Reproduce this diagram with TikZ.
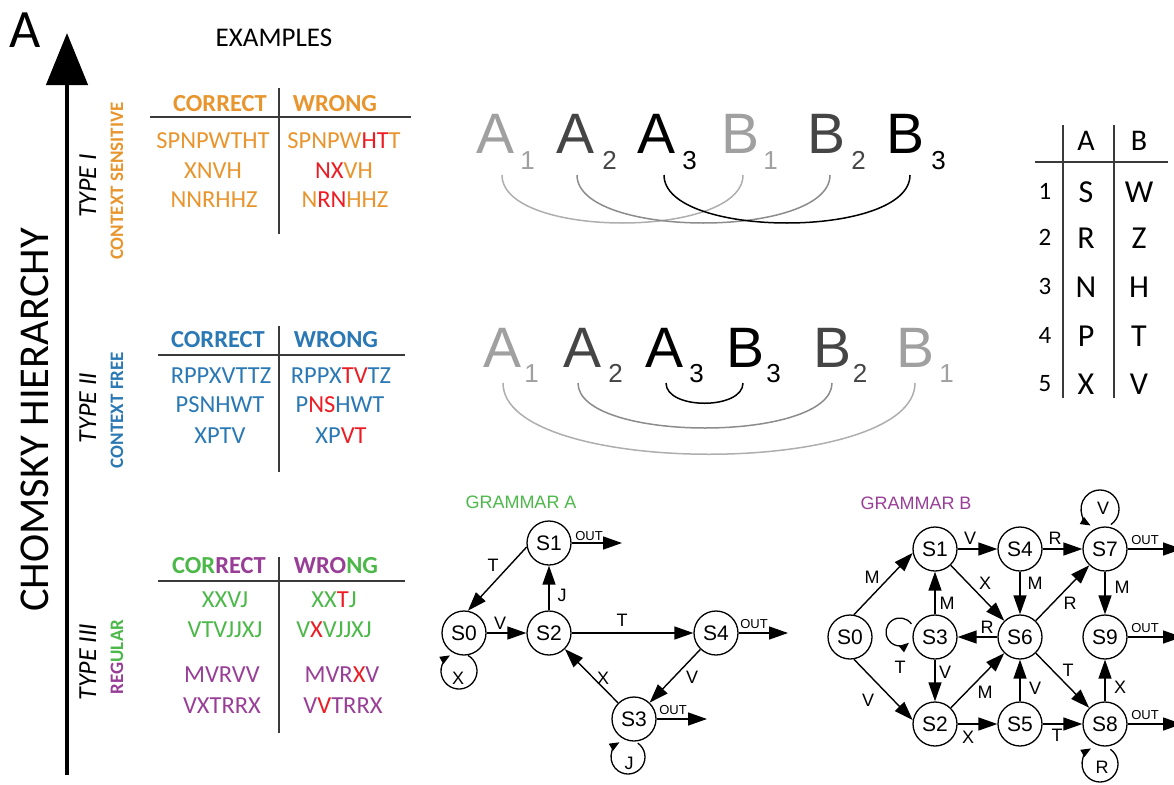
\documentclass[tikz,border=0pt]{standalone}
\usepackage{fontspec}
\setmainfont{Carlito}
\newfontfamily\arial{Liberation Sans}
\usetikzlibrary{arrows.meta}
\definecolor{corange}{HTML}{E8952E}
\definecolor{cblue}{HTML}{2A78B4}
\definecolor{cgreen}{HTML}{4DB84A}
\definecolor{cpurple}{HTML}{983E96}
\definecolor{cred}{HTML}{EC1C24}
\definecolor{lgray}{HTML}{A0A0A0}
\definecolor{dgray}{HTML}{454545}
\definecolor{tline}{HTML}{3A3A3A}
\newcommand\rd[1]{\textcolor{cred}{#1}}
\newcommand\fs[1]{\fontsize{#1}{#1}\selectfont}
\begin{document}
\begin{tikzpicture}[x=1pt,y=-1pt,
  every node/.style={inner sep=0pt},
  cell/.style={font=\fs{24.5}, text height=15.5pt, text depth=0pt},
  hd/.style={font=\fs{24.5}\bfseries, text height=15.5pt, text depth=0pt},
  typ/.style={rotate=90, font=\fs{26}\itshape, text height=16.4pt, text depth=0pt},
  ctx/.style={rotate=90, font=\fs{19}\bfseries, text height=12pt, text depth=0pt},
  tl/.style={draw=tline, line width=1.6pt},
  seq/.style={font=\arial\fs{57}, anchor=base},
  sub/.style={font=\arial\fs{26}, anchor=base},
  arcl/.style={line width=1.5pt},
  tbl/.style={font=\fs{32}, text height=20.2pt, text depth=0pt},
  tnum/.style={font=\fs{25}, text height=15.8pt, text depth=0pt},
  thd/.style={font=\fs{30}, text height=19pt, text depth=0pt},
  st/.style={circle, draw, line width=1.3pt, minimum size=44pt, font=\arial\fs{21}},
  el/.style={font=\arial\fs{18}},
  outl/.style={font=\arial\fs{13}},
  ar/.style={draw, line width=1.4pt, -{Triangle[length=19pt,width=13pt]}},
  lp/.style={draw, line width=1.3pt, -{Triangle[length=10pt,width=8pt]}},
  gt/.style={font=\arial\fs{18}}
]
\useasboundingbox (0,0) rectangle (1174,784);
\clip (0,0) rectangle (1174,784);

% ---- left: title and axis
\node (bigA) at (25,30) {\fs{54}A};
\coordinate (axb) at (67,775);
\coordinate (axt) at (67,33);
\draw[line width=4.5pt, -{Triangle[length=52pt,width=41pt]}] (axb) -- (axt);
\node[rotate=90, font=\fs{42.5}, text height=26.9pt, text depth=0pt] (chom) at (35,420) {CHOMSKY HIERARCHY};
\node (ex) at (274,38) {\fs{27}EXAMPLES};

\node[typ] (t1) at (88,186) {TYPE I};
\node[ctx, text=corange] (c1) at (117,181) {CONTEXT SENSITIVE};
\node[typ] (t2) at (88,408) {TYPE II};
\node[ctx, text=cblue] (c2) at (117,410) {CONTEXT FREE};
\node[typ] (t3) at (88,662) {TYPE III};
\node[ctx] (c3) at (117,657) {{\color{cpurple}REG}{\color{cgreen}ULAR}};

% ---- Type I table
\node[hd, text=corange] (h1c) at (220,104) {CORRECT};
\node[hd, text=corange] (h1w) at (335,104) {WRONG};
\draw[tl] (150,117) -- (411,117);
\draw[tl] (279,88) -- (279,234);
\begin{scope}[every node/.append style={cell, text=corange}]
\node (r11) at (213,141) {SPNPWTHT};
\node (w11) at (344,141) {SPNPW\rd{HT}T};
\node (r12) at (213,171) {XNVH};
\node (w12) at (344,171) {\rd{NX}VH};
\node (r13) at (214,200) {NNRHHZ};
\node (w13) at (345,200) {N\rd{RN}HHZ};
\end{scope}

% ---- Type II table
\node[hd, text=cblue] (h2c) at (218,340) {CORRECT};
\node[hd, text=cblue] (h2w) at (336,340) {WRONG};
\draw[tl] (158,355) -- (405,355);
\draw[tl] (279,326) -- (279,472);
\begin{scope}[every node/.append style={cell, text=cblue}]
\node (r21) at (221,376) {RPPXVTTZ};
\node (w21) at (341,376) {RPPX\rd{TV}TZ};
\node (r22) at (220,405) {PSNHWT};
\node (w22) at (340,405) {P\rd{NS}HWT};
\node (r23) at (220,436) {XPTV};
\node (w23) at (341,436) {XP\rd{VT}};
\end{scope}

% ---- Type III table
\node[hd] (h3c) at (219,566) {{\color{cgreen}COR}{\color{cpurple}RECT}};
\node[hd] (h3w) at (336,566) {{\color{cpurple}WRO}{\color{cgreen}NG}};
\draw[tl] (158,581) -- (405,581);
\draw[tl] (279,557) -- (279,733);
\begin{scope}[every node/.append style={cell, text=cgreen}]
\node (r31) at (225,600) {XXVJ};
\node (w31) at (334,600) {XX\rd{T}J};
\node (r32) at (225,630) {VTVJJXJ};
\node (w32) at (334,630) {V\rd{X}VJJXJ};
\end{scope}
\begin{scope}[every node/.append style={cell, text=cpurple}]
\node (r33) at (222,675) {MVRVV};
\node (w33) at (342,675) {MVR\rd{X}V};
\node (r34) at (222,706) {VXTRRX};
\node (w34) at (343,706) {V\rd{V}TRRX};
\end{scope}

% ---- sequences top (crossed)
\node[seq, text=lgray] (tA1) at (496,153) {A};
\node[sub, text=lgray] (tA1s) at (527.5,169) {1};
\node[seq, text=dgray] (tA2) at (576,153) {A};
\node[sub, text=dgray] (tA2s) at (609.5,169) {2};
\node[seq] (tA3) at (656,153) {A};
\node[sub] (tA3s) at (689.5,169) {3};
\node[seq, text=lgray] (tB1) at (740.5,153) {B};
\node[sub, text=lgray] (tB1s) at (770.5,169) {1};
\node[seq, text=dgray] (tB2) at (826.5,153) {B};
\node[sub, text=dgray] (tB2s) at (858.5,169) {2};
\node[seq] (tB3) at (905,153) {B};
\node[sub] (tB3s) at (938.5,169) {3};
\coordinate (ta1) at (502,175); \coordinate (tb1) at (743,175);
\coordinate (ta2) at (577,175); \coordinate (tb2) at (830,175);
\coordinate (ta3) at (664,175); \coordinate (tb3) at (910,175);
\draw[arcl, draw=lgray!85] (ta1) .. controls +(0,64) and +(0,64) .. (tb1);
\draw[arcl, draw=gray!110!black] (ta2) .. controls +(0,64) and +(0,64) .. (tb2);
\draw[arcl, draw=black] (ta3) .. controls +(0,64) and +(0,64) .. (tb3);

% ---- sequences bottom (nested)
\node[seq, text=lgray] (bA1) at (502.5,367) {A};
\node[sub, text=lgray] (bA1s) at (531.5,382) {1};
\node[seq, text=dgray] (bA2) at (583,367) {A};
\node[sub, text=dgray] (bA2s) at (615.5,382) {2};
\node[seq] (bA3) at (664,367) {A};
\node[sub] (bA3s) at (696.5,382) {3};
\node[seq] (bB3) at (745,367) {B};
\node[sub] (bB3s) at (773.5,382) {3};
\node[seq, text=dgray] (bB2) at (832,367) {B};
\node[sub, text=dgray] (bB2s) at (860,382) {2};
\node[seq, text=lgray] (bB1) at (915,367) {B};
\node[sub, text=lgray] (bB1s) at (946.5,382) {1};
\coordinate (ba1) at (503,383); \coordinate (bb1) at (915,383);
\coordinate (ba2) at (578,383); \coordinate (bb2) at (832,383);
\coordinate (ba3) at (666,383); \coordinate (bb3) at (743,383);
\draw[arcl, draw=lgray!85] (ba1) .. controls +(0,95) and +(0,95) .. (bb1);
\draw[arcl, draw=gray!110!black] (ba2) .. controls +(0,60) and +(0,60) .. (bb2);
\draw[arcl, draw=black] (ba3) .. controls +(0,27) and +(0,27) .. (bb3);

% ---- right table
\node[thd] (hA) at (1086,141) {A};
\node[thd] (hB) at (1139,141) {B};
\draw[tl] (1035,162) -- (1168,162);
\draw[tl] (1063,125) -- (1063,398);
\draw[tl] (1114,125) -- (1114,398);
\foreach \n/\y/\a/\b in {1/192/S/W, 2/238/R/Z, 3/287/N/H, 4/336/P/T, 5/384/X/V}{
  \node[tnum] (n\n) at (1045,\y) {\n};
  \node[tbl] (a\n) at (1086,\y) {\a};
  \node[tbl] (b\n) at (1139,\y) {\b};
}

% ---- Grammar A
\node[gt, text=cgreen] (gA) at (521,502) {GRAMMAR A};
\node[st] (A0) at (464,633) {S0};
\node[st] (A1) at (549,543) {S1};
\node[st] (A2) at (549,633) {S2};
\node[st] (A4) at (716,633) {S4};
\node[st] (A3) at (634,719) {S3};
\coordinate (oA1) at (622,543);
\coordinate (oA4) at (788,633);
\coordinate (oA3) at (707,719);
\coordinate (lA0c) at (459,671);
\coordinate (lA3c) at (628,757);
\draw[ar] (A1.190) -- (A0.80);
\draw[ar] (A2) -- (A1);
\draw[ar] (A0) -- (A2);
\draw[ar] (A2) -- (A4);
\draw[ar] (A4) -- (A3);
\draw[ar] (A3) -- (A2);
\draw[ar] (A1) -- (oA1);
\draw[ar] (A4) -- (oA4);
\draw[ar] (A3) -- (oA3);
\draw[lp] (lA0c) ++(-60:18) arc[start angle=-60, end angle=240, radius=18];
\draw[lp] (lA3c) ++(-55:17) arc[start angle=-55, end angle=240, radius=17];
\node[el] (lA10) at (493,565) {T};
\node[el] (lA21) at (562,595) {J};
\node[el] (lA02) at (500,623) {V};
\node[el] (lA24) at (622,620) {T};
\node[el] (lA43) at (692,677) {V};
\node[el] (lA32) at (603,678) {X};
\node[el] (lA00) at (458,678) {X};
\node[el] (lA33) at (629,763) {J};
\node[outl] (oAt1) at (589,536) {OUT};
\node[outl] (oAt4) at (754,624) {OUT};
\node[outl] (oAt3) at (673,710) {OUT};

% ---- Grammar B
\node[gt, text=cpurple] (gB) at (916,503) {GRAMMAR B};
\node[st] (B0) at (850,637) {S0};
\node[st] (B1) at (935,549) {S1};
\node[st] (B4) at (1020,549) {S4};
\node[st] (B7) at (1105,549) {S7};
\node[st] (B3) at (935,637) {S3};
\node[st] (B6) at (1020,637) {S6};
\node[st] (B9) at (1105,637) {S9};
\node[st] (B2) at (935,724) {S2};
\node[st] (B5) at (1020,724) {S5};
\node[st] (B8) at (1105,724) {S8};
\coordinate (oB7) at (1182,549);
\coordinate (oB9) at (1182,637);
\coordinate (oB8) at (1182,724);
\coordinate (lB3c) at (900,632);
\coordinate (lB7c) at (1100,509);
\coordinate (lB8c) at (1100,764);
\draw[ar] (B0.80) -- (B1.190);
\draw[ar] (B0.-80) -- (B2.170);
\draw[ar] (B1) -- (B4);
\draw[ar] (B4) -- (B7);
\draw[ar] (B1) -- (B6);
\draw[ar] (B4) -- (B6);
\draw[ar] (B6) -- (B7);
\draw[ar] (B7) -- (B9);
\draw[ar] (B3) -- (B1);
\draw[ar] (B6) -- (B3);
\draw[ar] (B3) -- (B2);
\draw[ar] (B2) -- (B6);
\draw[ar] (B5) -- (B6);
\draw[ar] (B6) -- (B8);
\draw[ar] (B2) -- (B5);
\draw[ar] (B5) -- (B8);
\draw[ar] (B8) -- (B9);
\draw[ar] (B7) -- (oB7);
\draw[ar] (B9) -- (oB9);
\draw[ar] (B8) -- (oB8);
\draw[lp] (lB3c) ++(-35:14) arc[start angle=-35, end angle=-310, radius=14];
\draw[lp] (lB7c) ++(55:19) arc[start angle=55, end angle=-240, radius=19];
\draw[lp] (lB8c) ++(-55:18) arc[start angle=-55, end angle=240, radius=18];
\node[el] (lB01) at (872,577) {M};
\node[el] (lB02) at (868,700) {V};
\node[el] (lB14) at (970,538) {V};
\node[el] (lB47) at (1055,538) {R};
\node[el] (lB16) at (985,583) {X};
\node[el] (lB46) at (1035,583) {M};
\node[el] (lB67) at (1070,603) {R};
\node[el] (lB79) at (1122,587) {M};
\node[el] (lB31) at (947,603) {M};
\node[el] (lB63) at (987,627) {R};
\node[el] (lB33) at (900,667) {T};
\node[el] (lB32) at (945,672) {V};
\node[el] (lB26) at (985,692) {M};
\node[el] (lB56) at (1035,688) {V};
\node[el] (lB68) at (1068,670) {T};
\node[el] (lB25) at (968,737) {X};
\node[el] (lB58) at (1057,735) {T};
\node[el] (lB89) at (1120,687) {X};
\node[el] (lB77) at (1103,508) {V};
\node[el] (lB88) at (1102,767) {R};
\node[outl] (oBt7) at (1145,540) {OUT};
\node[outl] (oBt9) at (1145,628) {OUT};
\node[outl] (oBt8) at (1145,715) {OUT};
\end{tikzpicture}
\end{document}
